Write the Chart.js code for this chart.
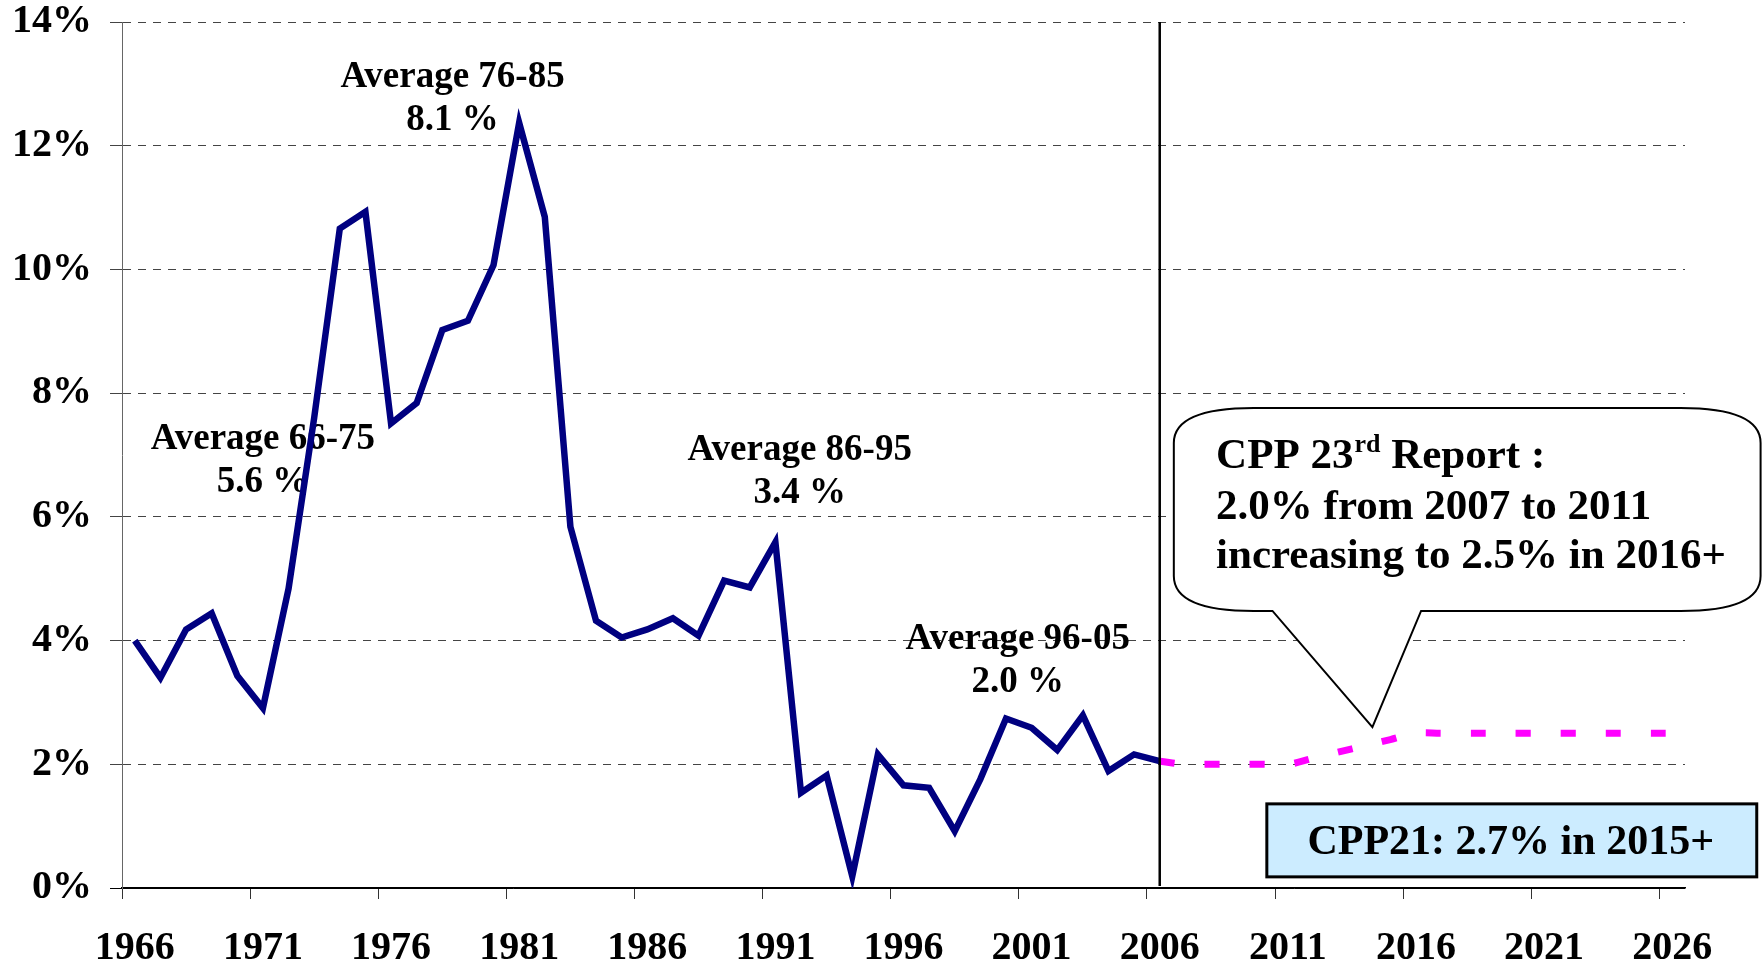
<!DOCTYPE html>
<html>
<head>
<meta charset="utf-8">
<script src="https://cdn.jsdelivr.net/npm/chart.js@4.4.0/dist/chart.umd.min.js"></script>
<style>
  html, body { margin: 0; padding: 0; background: #fff; }
  canvas { display: block; }
</style>
</head>
<body>
<canvas id="cpiChart" width="1762" height="963"></canvas>
<script>
// Categories (one per year)
const years = ['1966','1967','1968','1969','1970','1971','1972','1973','1974','1975',
  '1976','1977','1978','1979','1980','1981','1982','1983','1984','1985',
  '1986','1987','1988','1989','1990','1991','1992','1993','1994','1995',
  '1996','1997','1998','1999','2000','2001','2002','2003','2004','2005',
  '2006','2007','2008','2009','2010','2011','2012','2013','2014','2015',
  '2016','2017','2018','2019','2020','2021','2022','2023','2024','2025','2026'];

// Labels shown under the x axis
const tickYears = ['1966','1971','1976','1981','1986','1991','1996','2001','2006','2011','2016','2021','2026'];

// Historical inflation 1966-2006 (%)
const historical = [4.0, 3.40, 4.18, 4.44, 3.43, 2.91, 4.84, 7.6, 10.66, 10.93,
  7.51, 7.84, 9.02, 9.17, 10.07, 12.37, 10.85, 5.84, 4.32, 4.05,
  4.18, 4.36, 4.08, 4.97, 4.86, 5.59, 1.54, 1.82, 0.19, 2.16,
  1.66, 1.62, 0.92, 1.76, 2.74, 2.59, 2.23, 2.79, 1.89, 2.16, 2.05];

// CPP 23rd report assumption 2006-2026 (%)
const projection = [2.05, 2.0, 2.0, 2.0, 2.0, 2.0, 2.1, 2.2, 2.3, 2.4,
  2.5, 2.5, 2.5, 2.5, 2.5, 2.5, 2.5, 2.5, 2.5, 2.5, 2.5];

// Y tick values
const yTicks = [0, 2, 4, 6, 8, 10, 12, 14];

// Annotation texts
const averageTitles = ['Average 66-75', 'Average 76-85', 'Average 86-95', 'Average 96-05'];
const averageValues = ['5.6 %', '8.1 %', '3.4 %', '2.0 %'];
const calloutLines = ['2.0% from 2007 to 2011', 'increasing to 2.5% in 2016+'];
const boxText = 'CPP21: 2.7% in 2015+';

const SERIF = "'Liberation Serif', 'Times New Roman', serif";

// Pad the series with nulls so they line up with the categories
const histData = historical.concat(new Array(years.length - historical.length).fill(null));
const projData = new Array(years.length - projection.length).fill(null).concat(projection);

// Plugin for the text notes, the 2006 divider, the callout and the CPP21 box
const overlayPlugin = {
    id: 'overlay',
    beforeDatasetsDraw(chart, args, opts) {
        const { ctx, scales: { x, y } } = chart;
        const px = yr => x.getPixelForValue(yr - 1966);
        const py = v => y.getPixelForValue(v);

        ctx.save();
        ctx.fillStyle = '#000';
        ctx.font = `bold ${opts.avgFont}px ${SERIF}`;
        ctx.textAlign = 'center';
        ctx.textBaseline = 'middle';
        opts.averagePos.forEach((p, i) => {
            const cx = px(p.yr);
            const cy = py(p.pct);
            ctx.fillText(averageTitles[i], cx, cy - opts.avgGap / 2);
            ctx.fillText(averageValues[i], cx, cy + opts.avgGap / 2);
        });
        ctx.restore();
    },
    afterDatasetsDraw(chart, args, opts) {
        const { ctx, chartArea, scales: { x, y } } = chart;
        const px = yr => x.getPixelForValue(yr - 1966);
        const py = v => y.getPixelForValue(v);

        // divider at 2006
        ctx.save();
        ctx.strokeStyle = '#000';
        ctx.lineWidth = 2.5;
        ctx.beginPath();
        ctx.moveTo(px(2006), chartArea.top);
        ctx.lineTo(px(2006), chartArea.bottom - 2);
        ctx.stroke();
        ctx.restore();

        // callout bubble
        const c = opts.callout;
        const l = px(c.left), r = px(c.right), t = py(c.top), b = py(c.bottom);
        const rx = 80, ry = 35;
        ctx.save();
        ctx.beginPath();
        ctx.moveTo(l + rx, t);
        ctx.lineTo(r - rx, t);
        ctx.quadraticCurveTo(r, t, r, t + ry);
        ctx.lineTo(r, b - ry);
        ctx.quadraticCurveTo(r, b, r - rx, b);
        ctx.lineTo(px(c.baseRight), b);
        ctx.lineTo(px(c.tipYr), py(c.tipPct));
        ctx.lineTo(px(c.baseLeft), b);
        ctx.lineTo(l + rx, b);
        ctx.quadraticCurveTo(l, b, l, b - ry);
        ctx.lineTo(l, t + ry);
        ctx.quadraticCurveTo(l, t, l + rx, t);
        ctx.closePath();
        ctx.fillStyle = '#fff';
        ctx.fill();
        ctx.strokeStyle = '#000';
        ctx.lineWidth = 2;
        ctx.stroke();

        // callout text
        const tx = px(c.textYr);
        ctx.fillStyle = '#000';
        ctx.textAlign = 'left';
        ctx.textBaseline = 'middle';
        const big = `bold ${opts.noteFont}px ${SERIF}`;
        const small = `bold ${Math.round(opts.noteFont * 0.6)}px ${SERIF}`;
        let cy = py(c.linePct[0]);
        ctx.font = big;
        ctx.fillText('CPP 23', tx, cy);
        let cur = tx + ctx.measureText('CPP 23').width;
        ctx.font = small;
        ctx.fillText('rd', cur + 1, cy - 12);
        cur += ctx.measureText('rd').width + 1;
        ctx.font = big;
        ctx.fillText(' Report :', cur, cy);
        calloutLines.forEach((line, i) => {
            ctx.fillText(line, tx, py(c.linePct[i + 1]));
        });

        // CPP21 box
        const bx = opts.box;
        const bl = px(bx.left), br = px(bx.right), bt = py(bx.top), bb = py(bx.bottom);
        ctx.fillStyle = '#CCECFF';
        ctx.fillRect(bl, bt, br - bl, bb - bt);
        ctx.strokeStyle = '#000';
        ctx.lineWidth = 3;
        ctx.strokeRect(bl, bt, br - bl, bb - bt);
        ctx.fillStyle = '#000';
        ctx.font = `bold ${opts.boxFont}px ${SERIF}`;
        ctx.textAlign = 'center';
        ctx.fillText(boxText, px(bx.textYr), py(bx.textPct));
        ctx.restore();
    }
};

const chart = new Chart(document.getElementById('cpiChart').getContext('2d'), {
    type: 'line',
    data: {
        labels: years,
        datasets: [
            {
                label: 'CPI',
                data: histData,
                borderColor: '#000080',
                borderWidth: 6.5,
                pointRadius: 0,
                tension: 0,
                fill: false
            },
            {
                label: 'CPP 23rd Report',
                data: projData,
                borderColor: '#FF00FF',
                borderWidth: 7,
                borderDash: [15, 30],
                pointRadius: 0,
                tension: 0.4,
                fill: false
            }
        ]
    },
    options: {
        responsive: false,
        animation: false,
        devicePixelRatio: 1,
        layout: { padding: { top: 22, right: 77, bottom: 0, left: 0 } },
        plugins: {
            legend: { display: false },
            tooltip: { enabled: false },
            overlay: {
                avgFont: 37,
                avgGap: 43,
                averagePos: [
                    { yr: 1971.0, pct: 6.90 },
                    { yr: 1978.4, pct: 12.76 },
                    { yr: 1991.95, pct: 6.72 },
                    { yr: 2000.46, pct: 3.67 }
                ],
                noteFont: 43,
                boxFont: 42,
                callout: {
                    left: 2006.55, right: 2029.45, top: 7.76, bottom: 4.48,
                    baseLeft: 2010.4, baseRight: 2016.2, tipYr: 2014.3, tipPct: 2.60,
                    textYr: 2008.2, linePct: [6.97, 6.15, 5.35]
                },
                box: {
                    left: 2010.18, right: 2029.3, top: 1.36, bottom: 0.18,
                    textYr: 2019.7, textPct: 0.72
                }
            }
        },
        scales: {
            x: {
                type: 'category',
                offset: true,
                grid: {
                    offset: true,
                    drawOnChartArea: false,
                    tickLength: 11,
                    tickWidth: 1,
                    tickColor: (ctx) => ctx.index % 5 === 0 ? '#333' : 'rgba(0,0,0,0)'
                },
                border: { color: '#000', width: 1.5 },
                ticks: {
                    autoSkip: false,
                    maxRotation: 0,
                    minRotation: 0,
                    padding: 26,
                    color: '#000',
                    font: { family: SERIF, size: 40, weight: 'bold' },
                    callback: (val, idx) => tickYears.includes(years[idx]) ? years[idx] : ''
                },
                afterFit: (scale) => {
                    scale.height = 75;
                    scale.paddingLeft = 0;
                    scale.paddingRight = 0;
                }
            },
            y: {
                min: yTicks[0],
                max: yTicks[yTicks.length - 1],
                afterBuildTicks: (scale) => { scale.ticks = yTicks.map(v => ({ value: v })); },
                grid: {
                    color: (ctx) => ctx.tick && ctx.tick.value === 0 ? '#000' : '#444',
                    lineWidth: 1,
                    tickLength: 12,
                    tickColor: (ctx) => ctx.tick && ctx.tick.value === 0 ? '#000' : '#444'
                },
                border: {
                    color: '#666',
                    width: 1,
                    dash: (ctx) => ctx.tick && ctx.tick.value === 0 ? [] : [8, 7]
                },
                ticks: {
                    padding: 18,
                    color: '#000',
                    font: { family: SERIF, size: 40, weight: 'bold' },
                    callback: (v) => v + '%'
                },
                afterFit: (scale) => {
                    scale.width = 122;
                    scale.paddingTop = 0;
                    scale.paddingBottom = 0;
                }
            }
        }
    },
    plugins: [overlayPlugin]
});
</script>
</body>
</html>
